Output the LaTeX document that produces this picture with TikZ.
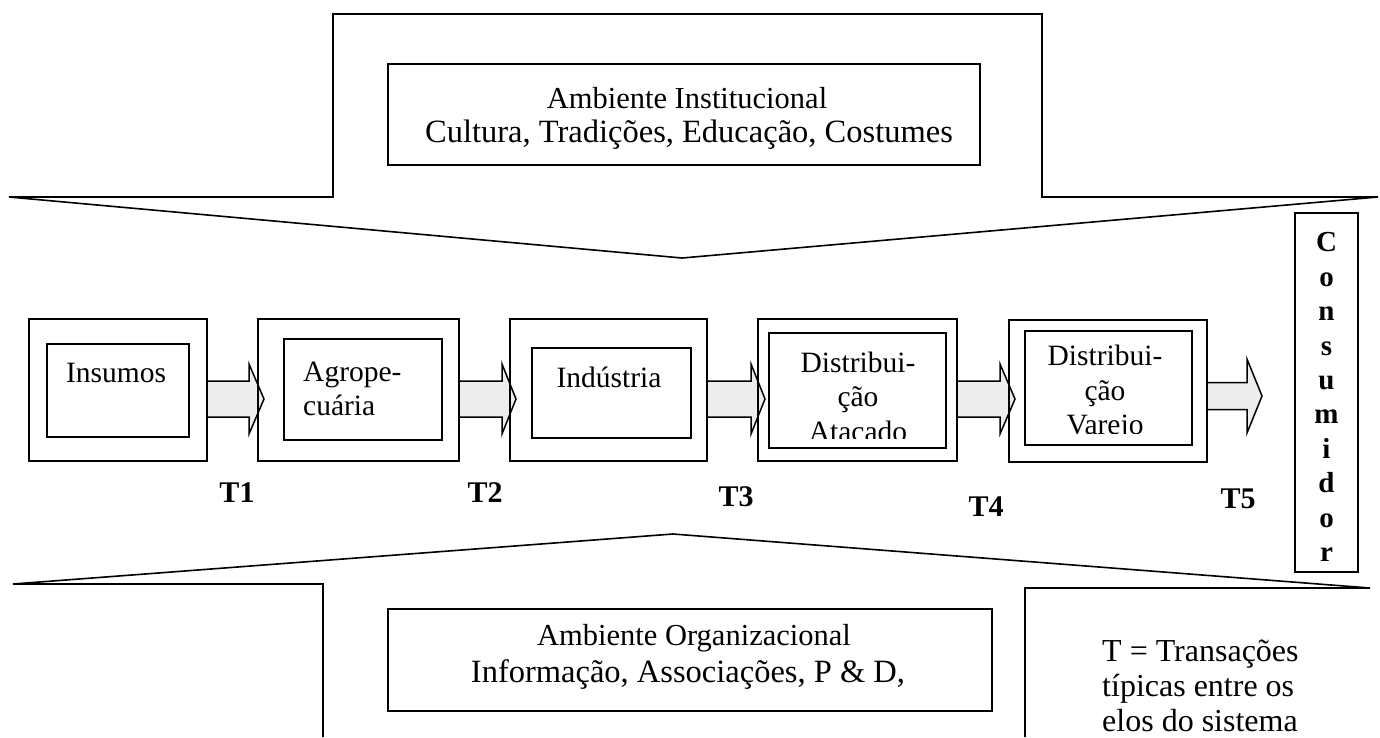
\documentclass[tikz,border=0pt]{standalone}
\usepackage{fontspec}
\setmainfont{Liberation Serif}
\newcommand\blockarr[7]{% start, base, tip, yc, shaft half, head half, name
  \draw[flow] (#1,#4-#5) -- (#2,#4-#5) -- (#2,#4-#6) -- (#3,#4) coordinate (#7)
    -- (#2,#4+#6) -- (#2,#4+#5) -- (#1,#4+#5) -- cycle;}
\begin{document}
\begin{tikzpicture}[x=1pt,y=-1pt,
  line/.style={line width=1.6pt, line join=miter},
  box/.style={draw, line width=1.5pt, inner sep=0pt},
  txt/.style={font=\fontsize{29.5}{34.5}\selectfont, align=center, inner sep=0pt},
  head/.style={font=\fontsize{30.5}{34}\selectfont, inner sep=0pt},
  sub/.style={font=\fontsize{32.5}{35}\selectfont, inner sep=0pt},
  tlab/.style={font=\fontsize{30}{34}\selectfont\bfseries, inner sep=0pt},
  flow/.style={draw, line width=1.5pt, fill=black!7, line join=miter},
]
\useasboundingbox (0,0) rectangle (1380,737);

% institutional environment (top chevron)
\draw[line] (9,197) -- (333,197) -- (333,14) -- (1042,14) -- (1042,197) -- (1378,197) -- (682,258) -- cycle;
% organizational environment (bottom chevron)
\draw[line] (323,737) -- (323,584) -- (13,584) -- (673,534) -- (1370,588) -- (1025,588) -- (1025,737);

% environment boxes
\node[box, minimum width=592, minimum height=101] (inst) at (684,114.5) {};
\node[head] (insth) at (687,98) {Ambiente Institucional};
\node[sub] (insts) at (689,135) {Cultura, Tradições, Educação, Costumes};
\node[box, minimum width=604, minimum height=102] (org) at (690,660) {};
\node[head] (orgh) at (694,638) {Ambiente Organizacional};
\node[sub] (orgs) at (688,675) {Informação, Associações, P \& D,};

% block arrows
\blockarr{207}{249}{264}{399}{18}{35}{a1}
\blockarr{459}{502}{516}{399}{18}{35}{a2}
\blockarr{707}{751}{765}{399}{18}{35}{a3}
\blockarr{957}{1000}{1015}{399}{18}{35}{a4}
\blockarr{1207}{1247}{1262}{396}{13.5}{37}{a5}

% chain boxes
\node[box, minimum width=178, minimum height=142] (b1o) at (118,390) {};
\node[box, minimum width=142, minimum height=93] (b1i) at (118,390.5) {};
\node[txt] (b1t) at (116,373) {Insumos};

\node[box, minimum width=201, minimum height=142] (b2o) at (358.5,390) {};
\node[box, minimum width=158, minimum height=101] (b2i) at (363,389.5) {};
\node[txt, align=left, anchor=west] (b2t) at (303,389) {Agrope-\\cuária};

\node[box, minimum width=197, minimum height=142] (b3o) at (608.5,390) {};
\node[box, minimum width=159, minimum height=90] (b3i) at (611.5,393) {};
\node[txt] (b3t) at (609,377) {Indústria};

\node[box, minimum width=199, minimum height=142] (b4o) at (857.5,390) {};
\node[box, minimum width=177, minimum height=115] (b4i) at (857.5,390.5) {};
\begin{scope}
  \clip (769,333) rectangle (946,438);
  \node[txt] (b4t) at (858,396.5) {Distribui-\\ção\\Atacado};
\end{scope}

\node[box, minimum width=198, minimum height=142] (b5o) at (1108,391) {};
\node[box, minimum width=167, minimum height=114] (b5i) at (1108.5,388) {};
\begin{scope}
  \clip (1025,331) rectangle (1192,433);
  \node[txt] (b5t) at (1105,393) {Distribui-\\ção\\Varejo};
\end{scope}

% consumer
\node[box, minimum width=63, minimum height=359] (cons) at (1326.5,392.5) {};
\node[txt, font=\fontsize{29}{34.4}\selectfont\bfseries] (const) at (1326.5,397)
  {C\\o\\n\\s\\u\\m\\i\\d\\o\\r};

% transaction labels
\node[tlab] (t1) at (237,493) {T1};
\node[tlab] (t2) at (485,493) {T2};
\node[tlab] (t3) at (736,497) {T3};
\node[tlab] (t4) at (986,507) {T4};
\node[tlab] (t5) at (1238,499) {T5};

% note
\node[txt, font=\fontsize{32}{35}\selectfont, align=left, anchor=west] (note) at (1102,686)
  {T = Transações\\típicas entre os\\elos do sistema};
\end{tikzpicture}
\end{document}
